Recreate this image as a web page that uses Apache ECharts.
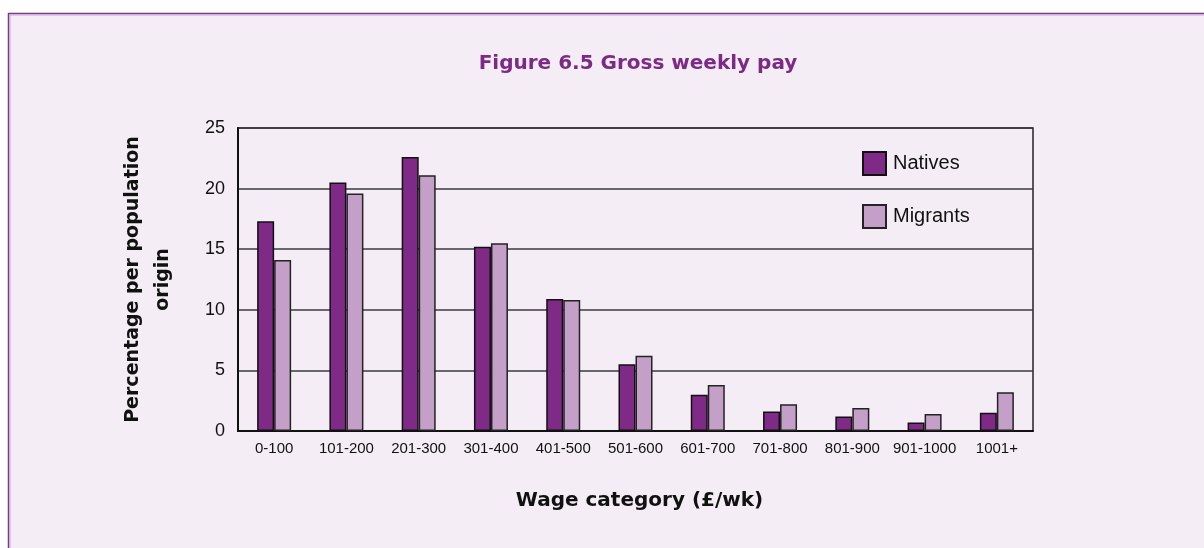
<!DOCTYPE html>
<html>
<head>
<meta charset="UTF-8"/>
<title>Gross weekly pay</title>
<script src="https://cdn.jsdelivr.net/npm/echarts@6/dist/echarts.min.js"></script>
<style>
html, body { margin:0; padding:0; background:#fff; }
#chart { width:1204px; height:548px; }
</style>
</head>
<body>
<div id="chart"></div>
<script>
// wage categories and shares (% per population origin)
var categories = ['0-100','101-200','201-300','301-400','401-500','501-600','601-700','701-800','801-900','901-1000','1001+'];
var natives  = [17.3, 20.5, 22.6, 15.2, 10.9, 5.5, 3.0, 1.6, 1.2, 0.7, 1.5];
var migrants = [14.1, 19.6, 21.1, 15.5, 10.8, 6.2, 3.8, 2.2, 1.9, 1.4, 3.2];
var yTicks = [0, 5, 10, 15, 20, 25];

var chart = echarts.init(document.getElementById('chart'));

var option = {
  backgroundColor: '#fff',
  animation: false,
  graphic: [
    { type:'rect', z:-10, shape:{x:8.5, y:13.5, width:1220, height:560},
      style:{fill:'#F4EDF5', stroke:'#7A3A8C', lineWidth:1.5} },
    { type:'rect', z:-9, shape:{x:10, y:15, width:1220, height:560},
      style:{fill:'none', stroke:'#CDA3D6', lineWidth:1} }
  ],
  title: {
    text: 'Figure 6.5 Gross weekly pay',
    left: 633, top: 49, textAlign: 'center',
    textStyle: { color:'#7D2A86', fontFamily:'DejaVu Sans', fontWeight:'bold', fontSize:20 }
  },
  legend: {
    orient: 'vertical',
    left: 857, top: 146,
    itemWidth: 23, itemHeight: 23, itemGap: 28,
    icon: 'rect',
    textStyle: { color:'#111', fontFamily:'Liberation Sans, Arial', fontSize:20, padding:[0,0,0,2] },
    data: ['Natives','Migrants']
  },
  grid: {
    left: 238, right: 171, top: 128, bottom: 117,
    show: true, borderColor:'#222', borderWidth:1.5, backgroundColor:'transparent'
  },
  xAxis: {
    type: 'category',
    data: categories,
    name: 'Wage category (£/wk)',
    nameLocation: 'middle',
    nameGap: 60,
    nameTextStyle: { color:'#111', fontFamily:'DejaVu Sans', fontWeight:'bold', fontSize:20, padding:[0,0,0,8] },
    axisLine: { lineStyle:{ color:'#111', width:2 } },
    axisTick: { inside:true, length:7, interval:0, lineStyle:{ color:'#111', width:1.5 } },
    axisLabel: { interval:0, color:'#111', fontFamily:'Liberation Sans, Arial', fontSize:15, margin:10 }
  },
  yAxis: {
    type: 'value',
    min: yTicks[0], max: yTicks[yTicks.length-1], interval: 5,
    name: 'Percentage per population\norigin',
    nameLocation: 'middle',
    nameGap: 60,
    nameTextStyle: { color:'#111', fontFamily:'DejaVu Sans', fontWeight:'bold', fontSize:19, lineHeight:30, align:'center' },
    axisLine: { show:true, lineStyle:{ color:'#111', width:2 } },
    axisTick: { show:false },
    axisLabel: { color:'#111', fontFamily:'Liberation Sans, Arial', fontSize:18, margin:13 },
    splitLine: { lineStyle:{ color:'#3a3a3a', width:1.5 } }
  },
  series: [
    { name:'Natives', type:'bar', data:natives, barWidth:17, barGap:'0%',
      itemStyle:{ color:'#7E2A86', borderColor:'#111', borderWidth:1.5 } },
    { name:'Migrants', type:'bar', data:migrants, barWidth:17,
      itemStyle:{ color:'#C4A0C9', borderColor:'#222', borderWidth:1.5 } }
  ]
};

chart.setOption(option);
</script>
</body>
</html>
